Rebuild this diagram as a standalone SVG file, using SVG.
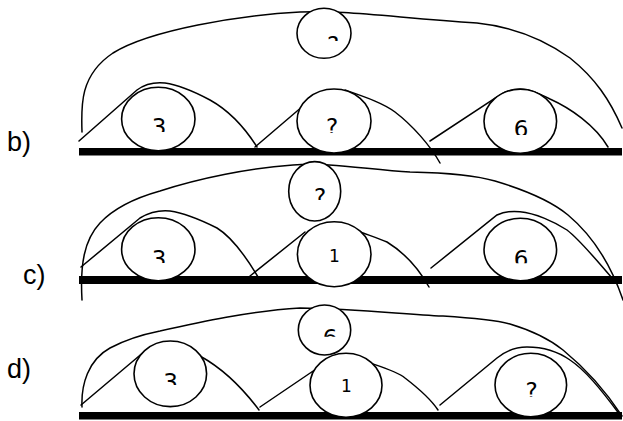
<svg xmlns="http://www.w3.org/2000/svg" width="623" height="421" viewBox="0 0 623 421">
<style>
.ln{fill:none;stroke:#000;stroke-width:1.5;stroke-linecap:round}
.nd{fill:#fff;stroke:#000;stroke-width:1.6}
.bar{fill:#000}
.t{font-family:"DejaVu Sans",sans-serif;font-size:23px;text-anchor:middle;fill:#000}
.t1{font-family:"DejaVu Sans",sans-serif;font-size:17px;text-anchor:middle;fill:#000}
.lb{font-family:"Liberation Sans",Arial,sans-serif;font-size:27px;fill:#000}
</style>
<defs>
<clipPath id="cb0" clipPathUnits="userSpaceOnUse"><rect x="290" y="0" width="70" height="41"/></clipPath>
<clipPath id="cb1" clipPathUnits="userSpaceOnUse"><rect x="110" y="80" width="100" height="52"/></clipPath>
<clipPath id="cb2" clipPathUnits="userSpaceOnUse"><rect x="290" y="80" width="90" height="53"/></clipPath>
<clipPath id="cb3" clipPathUnits="userSpaceOnUse"><rect x="480" y="80" width="90" height="55"/></clipPath>
<clipPath id="cc0" clipPathUnits="userSpaceOnUse"><rect x="285" y="160" width="70" height="40"/></clipPath>
<clipPath id="cc1" clipPathUnits="userSpaceOnUse"><rect x="110" y="210" width="100" height="53"/></clipPath>
<clipPath id="cc3" clipPathUnits="userSpaceOnUse"><rect x="480" y="210" width="90" height="53.3"/></clipPath>
<clipPath id="cd0" clipPathUnits="userSpaceOnUse"><rect x="290" y="300" width="70" height="36.7"/></clipPath>
<clipPath id="cd1" clipPathUnits="userSpaceOnUse"><rect x="120" y="335" width="100" height="50"/></clipPath>
<clipPath id="cd3" clipPathUnits="userSpaceOnUse"><rect x="490" y="350" width="90" height="46.7"/></clipPath>
</defs>

<g id="labels">
<text class="lb" x="7" y="151">b)</text>
<text class="lb" x="23" y="284">c)</text>
<text class="lb" x="7" y="378">d)</text>
</g>

<g id="bars">
<rect class="bar" x="79" y="148" width="543" height="7.5"/>
<rect class="bar" x="79" y="276" width="543" height="8"/>
<rect class="bar" x="79" y="412" width="543" height="7.5"/>
</g>

<g id="connectors">
<path class="ln" d="M82,132 C81,105 80,75 113,53 C150,30 240,15 300,12 C340,10 390,17 477,23 C515,27 545,40 570,58 C595,78 610,100 622,128"/>
<path class="ln" d="M79,141 L137,90 C145,84 155,82 165,83 C180,85 195,92 210,100 C228,110 245,128 257,147"/>
<path class="ln" d="M255,147 L310,100"/>
<path class="ln" d="M345,90 C365,97 383,103 395,112 C412,125 430,145 440,163"/>
<path class="ln" d="M430,141 L497,97 C505,91 512,89 520,89 C530,89 540,94 550,99 C570,108 595,125 608,147"/>
<path class="ln" d="M82,300 C80,265 84,240 100,223 C115,207 135,198 160,191 C200,178 250,168 293,165 C330,162 370,170 410,172 C450,173 475,175 495,181 C525,190 550,200 568,215 C592,235 610,262 623,300"/>
<path class="ln" d="M81,267 L140,218 C150,212 160,210 170,211 C185,213 205,222 217,228 C230,236 245,255 258,277"/>
<path class="ln" d="M250,276 L305,232"/>
<path class="ln" d="M350,228 C365,234 378,238 387,242 C400,250 415,262 429,287"/>
<path class="ln" d="M431,268 L497,215 C505,211 512,211 520,211.7 C535,213 555,222 567,230 C580,240 592,255 612,278"/>
<path class="ln" d="M82,407 C81,385 88,360 110,348 C125,340 140,335 160,331 C200,322 250,311 300,308 C360,309 400,314 443,316 C475,318 495,320 510,324 C530,330 548,338 563,350 C585,368 605,390 622,416"/>
<path class="ln" d="M81,405 L145,351"/>
<path class="ln" d="M200,356 C220,367 238,382 259,410"/>
<path class="ln" d="M260,407 L322,365"/>
<path class="ln" d="M370,363 C385,368 398,372 405,378 C418,388 430,398 438,410"/>
<path class="ln" d="M440,405 L497,358 C507,350 517,347 527,347 C545,347 560,353 570,360 C585,370 600,388 620,415"/>
</g>

<g id="b-top"><ellipse class="nd" cx="324" cy="33.3" rx="27" ry="25"/><text class="t" x="333" y="53" clip-path="url(#cb0)">?</text></g>
<g id="b-n3"><ellipse class="nd" cx="158.3" cy="119" rx="36.7" ry="31.7"/><text class="t" x="159" y="135" clip-path="url(#cb1)">3</text></g>
<g id="b-n2"><ellipse class="nd" cx="334" cy="121" rx="37" ry="32"/><text class="t" x="332" y="135" clip-path="url(#cb2)">?</text></g>
<g id="b-n6"><ellipse class="nd" cx="520.3" cy="121.3" rx="36.3" ry="32"/><text class="t" x="521" y="137" clip-path="url(#cb3)">6</text></g>

<g id="c-top"><ellipse class="nd" cx="314.7" cy="191.3" rx="26" ry="29.7"/><text class="t" x="320" y="205" clip-path="url(#cc0)">?</text></g>
<g id="c-n3"><ellipse class="nd" cx="158.3" cy="249.2" rx="36.7" ry="31.5"/><text class="t" x="159" y="267" clip-path="url(#cc1)">3</text></g>
<g id="c-n1"><ellipse class="nd" cx="334.2" cy="254.2" rx="36.8" ry="32.5"/><text class="t1" x="334.5" y="262.4">1</text></g>
<g id="c-n6"><ellipse class="nd" cx="520.3" cy="249.5" rx="36.3" ry="31.2"/><text class="t" x="521" y="267" clip-path="url(#cc3)">6</text></g>

<g id="d-top"><ellipse class="nd" cx="324.5" cy="330" rx="26.2" ry="25"/><text class="t" x="330" y="346" clip-path="url(#cd0)">6</text></g>
<g id="d-n3"><ellipse class="nd" cx="170.3" cy="373.8" rx="36.3" ry="32.8"/><text class="t" x="170.5" y="390" clip-path="url(#cd1)">3</text></g>
<g id="d-n1"><ellipse class="nd" cx="346" cy="385.3" rx="36" ry="32"/><text class="t1" x="346.5" y="392.4">1</text></g>
<g id="d-n2"><ellipse class="nd" cx="530.8" cy="385" rx="35.8" ry="31.7"/><text class="t" x="531.5" y="398.5" clip-path="url(#cd3)">?</text></g>
</svg>
